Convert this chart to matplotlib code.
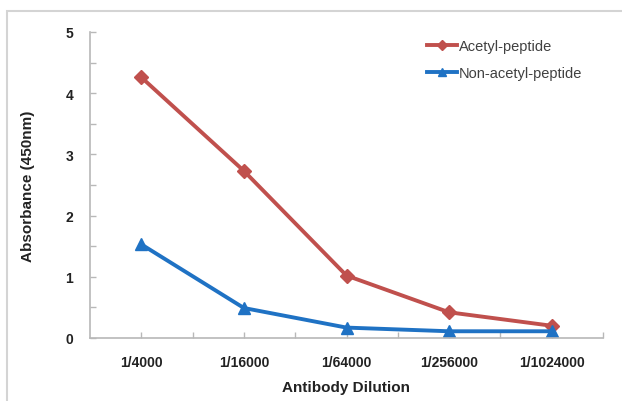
import matplotlib
matplotlib.use("Agg")
import matplotlib.pyplot as plt
from matplotlib.patches import Rectangle
from matplotlib.ticker import FixedLocator

dilutions = ["1/4000", "1/16000", "1/64000", "1/256000", "1/1024000"]
acetyl = [4.26, 2.73, 1.02, 0.42, 0.20]
non_acetyl = [1.53, 0.49, 0.17, 0.11, 0.11]

plt.rcParams["font.family"] = ["Liberation Sans", "DejaVu Sans"]

fig = plt.figure(figsize=(6.22, 4.02), dpi=100)
ax = fig.add_axes([90 / 622, 63 / 402, 513 / 622, 306 / 402])

# light grey frame around the whole chart
fig.patches.append(Rectangle((7 / 622, -0.05), 1.1, 0.05 + (402 - 12) / 402,
                             transform=fig.transFigure, fill=False,
                             edgecolor="#d4d4d4", linewidth=1.5))

x = list(range(len(dilutions)))
ax.plot(x, acetyl, color="#c0504d", lw=2.8, marker="D", ms=7,
        label="Acetyl-peptide", clip_on=False)
ax.plot(x, non_acetyl, color="#1f72c4", lw=2.8, marker="^", ms=8.5,
        label="Non-acetyl-peptide", clip_on=False)

ax.set_xlim(-0.5, len(dilutions) - 0.5)
ax.set_ylim(0, 5)
ax.set_xticks(x)
ax.set_xticklabels(dilutions, fontsize=10, fontweight="bold", color="#222222")
ax.xaxis.set_minor_locator(FixedLocator([i + 0.5 for i in x]))
ax.set_yticks(range(6))
ax.set_yticklabels([str(i) for i in range(6)], fontsize=10, fontweight="bold",
                   color="#222222")
ax.yaxis.set_minor_locator(FixedLocator([i + 0.5 for i in range(5)]))

for s in ["top", "right"]:
    ax.spines[s].set_visible(False)
for s in ["left", "bottom"]:
    ax.spines[s].set_color("#b8b8b8")
    ax.spines[s].set_linewidth(1.2)

ax.tick_params(axis="both", which="both", direction="in", color="#b8b8b8",
               length=4, width=1)
ax.tick_params(axis="x", pad=12)
ax.tick_params(axis="y", pad=12)

ax.set_xlabel("Antibody Dilution", fontsize=11, fontweight="bold", labelpad=8,
              color="#222222")
ax.set_ylabel("Absorbance (450nm)", fontsize=11, fontweight="bold", labelpad=22,
              color="#222222")

leg = ax.legend(loc="upper right", bbox_to_anchor=(0.985, 1.02), frameon=False,
                fontsize=10.5, handlelength=2.1, handletextpad=0.1,
                labelspacing=0.9, markerscale=0.7)
for t in leg.get_texts():
    t.set_color("#404040")

fig.savefig("out.png", dpi=100)
